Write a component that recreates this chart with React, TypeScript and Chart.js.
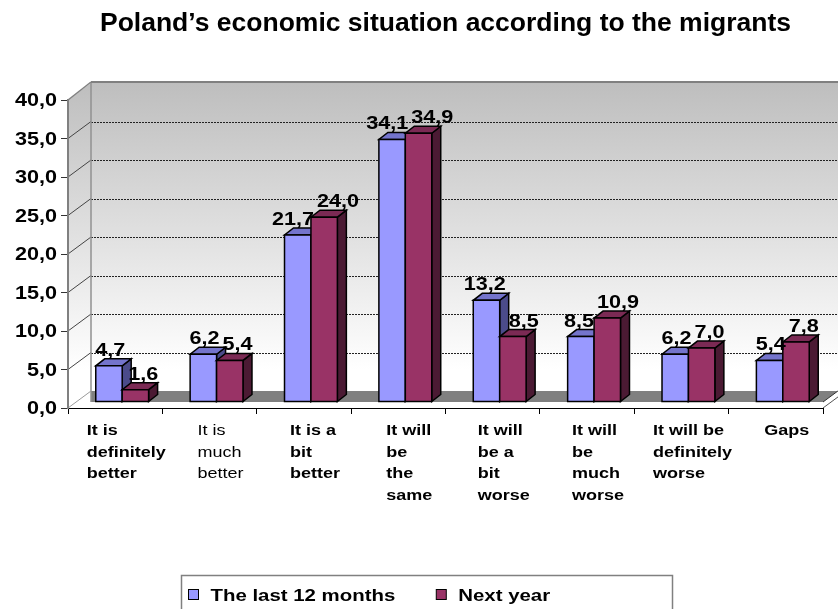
import React, { useEffect, useRef } from 'react';
import { Chart, registerables } from 'chart.js';

Chart.register(...registerables);

// ---------------- data ----------------
const TITLE = 'Poland\u2019s economic situation according to the migrants';
const CATEGORIES: string[][] = [
  ['It is', 'definitely', 'better'],
  ['It is', 'much', 'better'],
  ['It is a', 'bit', 'better'],
  ['It will', 'be', 'the', 'same'],
  ['It will', 'be a', 'bit', 'worse'],
  ['It will', 'be', 'much', 'worse'],
  ['It will be', 'definitely', 'worse'],
  ['Gaps'],
];
const SERIES_NAMES = ['The last 12 months', 'Next year'];
const LAST_12_MONTHS = [4.7, 6.2, 21.7, 34.1, 13.2, 8.5, 6.2, 5.4];
const NEXT_YEAR = [1.6, 5.4, 24.0, 34.9, 8.5, 10.9, 7.0, 7.8];
const Y_MIN = 0;
const Y_MAX = 40;
const Y_STEP = 5;
const PLAIN_LABEL_INDEXES = [1];

// ---------------- style ----------------
const FONT = '"Liberation Sans", Arial, Helvetica, sans-serif';
const STRETCH = 1.2;
const PALETTE = [
  { front: '#9999FF', top: '#7474CC', side: '#4B4B8A' },
  { front: '#993366', top: '#7B2A54', side: '#4B1A33' },
];
const DEPTH = { x: 23, y: -17 };
const BAR_OFFSET = { x: 7, y: -6 };
const BAR_DEPTH = { x: 9, y: -7 };

const fmt = (v: number) => v.toFixed(1).replace('.', ',');

function setFont(ctx: CanvasRenderingContext2D, size: number, weight: string) {
  ctx.font = `${weight} ${size}px ${FONT}`;
}
function measure(ctx: CanvasRenderingContext2D, text: string, size: number, weight: string) {
  ctx.save();
  setFont(ctx, size, weight);
  const w = ctx.measureText(text).width * STRETCH;
  ctx.restore();
  return w;
}
function drawText(
  ctx: CanvasRenderingContext2D,
  text: string,
  x: number,
  y: number,
  size: number,
  weight: string,
  align: CanvasTextAlign
) {
  ctx.save();
  setFont(ctx, size, weight);
  ctx.fillStyle = '#000';
  ctx.textBaseline = 'alphabetic';
  ctx.textAlign = align;
  ctx.translate(x, y);
  ctx.scale(STRETCH, 1);
  ctx.fillText(text, 0, 0);
  ctx.restore();
}
function poly(
  ctx: CanvasRenderingContext2D,
  pts: number[][],
  fill?: string | CanvasGradient,
  stroke?: string,
  lw = 1
) {
  ctx.beginPath();
  ctx.moveTo(pts[0][0], pts[0][1]);
  for (let i = 1; i < pts.length; i++) ctx.lineTo(pts[i][0], pts[i][1]);
  ctx.closePath();
  if (fill) {
    ctx.fillStyle = fill;
    ctx.fill();
  }
  if (stroke) {
    ctx.strokeStyle = stroke;
    ctx.lineWidth = lw;
    ctx.stroke();
  }
}
function line(ctx: CanvasRenderingContext2D, x1: number, y1: number, x2: number, y2: number, color: string, lw = 1) {
  ctx.beginPath();
  ctx.moveTo(x1, y1);
  ctx.lineTo(x2, y2);
  ctx.strokeStyle = color;
  ctx.lineWidth = lw;
  ctx.stroke();
}

const threeDPlugin = {
  id: 'threeD',
  beforeDraw(chart: any) {
    const { ctx, chartArea: a } = chart;
    const ys = chart.scales.y;
    const y0 = ys.getPixelForValue(Y_MIN);
    const yTop = ys.getPixelForValue(Y_MAX);
    const bl = a.left + DEPTH.x;
    const br = a.right + DEPTH.x;
    const bt = yTop + DEPTH.y;
    const bb = y0 + DEPTH.y;
    ctx.save();
    const mkGrad = () => {
      const g = ctx.createLinearGradient(0, bt, 0, bb);
      g.addColorStop(0, '#BEBEBE');
      g.addColorStop(0.93, '#FFFFFF');
      g.addColorStop(1, '#FFFFFF');
      return g;
    };
    // back wall
    ctx.fillStyle = mkGrad();
    ctx.fillRect(bl, bt - 1, br - bl, bb - bt + 1);
    // left side wall
    poly(ctx, [[a.left, yTop], [bl, bt], [bl, bb], [a.left, y0]], mkGrad());
    // grid lines
    ys.ticks.forEach((t: any) => {
      const py = ys.getPixelForValue(t.value);
      if (t.value > Y_MIN && t.value < Y_MAX) {
        ctx.setLineDash([2, 1]);
        line(ctx, bl, Math.round(py + DEPTH.y) + 0.5, br, Math.round(py + DEPTH.y) + 0.5, '#222', 1);
        ctx.setLineDash([]);
        line(ctx, a.left, py, bl, py + DEPTH.y, '#444', 1);
      }
    });
    // floor
    const fy = y0 + BAR_OFFSET.y;
    const backRight = a.right + (DEPTH.x * (fy - bb)) / -DEPTH.y;
    poly(ctx, [[bl, fy], [a.right, fy], [backRight, bb], [bl, bb]], '#808080');
    line(ctx, a.right, fy, backRight, bb, '#333', 1);
    line(ctx, a.right, y0, a.right + DEPTH.x, y0 + DEPTH.y, '#555', 1);
    // edges
    line(ctx, bl, bt - 1, br, bt - 1, '#808080', 2);
    line(ctx, bl, bt, bl, fy, '#909090', 1.5);
    line(ctx, a.left, yTop, bl, bt - 1, '#808080', 1.5);
    line(ctx, a.left, y0, bl, bb, '#9A9A9A', 1);
    ctx.restore();
  },
  beforeDatasetsDraw(chart: any) {
    const { ctx } = chart;
    const n = chart.data.labels.length;
    const nd = chart.data.datasets.length;
    ctx.save();
    ctx.lineJoin = 'miter';
    const labelInfo: any[][] = [];
    for (let i = 0; i < n; i++) {
      labelInfo[i] = [];
      for (let d = 0; d < nd; d++) {
        const el = chart.getDatasetMeta(d).data[i];
        const { x, y, base, width } = el.getProps(['x', 'y', 'base', 'width'], true);
        const x0 = x - width / 2 + BAR_OFFSET.x;
        const x1 = x + width / 2 + BAR_OFFSET.x;
        const yt = y + BAR_OFFSET.y;
        const yb = base + BAR_OFFSET.y;
        const dx = BAR_DEPTH.x;
        const dy = BAR_DEPTH.y;
        const c = PALETTE[d];
        poly(ctx, [[x1, yt], [x1 + dx, yt + dy], [x1 + dx, yb + dy], [x1, yb]], c.side, '#000', 1.5);
        poly(ctx, [[x0, yt], [x1, yt], [x1 + dx, yt + dy], [x0 + dx, yt + dy]], c.top, '#000', 1.5);
        poly(ctx, [[x0, yt], [x1, yt], [x1, yb], [x0, yb]], c.front, '#000', 1.5);
        const text = fmt(chart.data.datasets[d].data[i]);
        labelInfo[i].push({
          text,
          cx: (x0 + x1) / 2 + dx / 2,
          baseline: yt + dy - 3,
          w: measure(ctx, text, 18, 'bold'),
        });
      }
    }
    // value labels, pushed apart when they collide
    labelInfo.forEach((items) => {
      for (let k = 0; k < items.length - 1; k++) {
        const p = items[k];
        const q = items[k + 1];
        const need = (p.w + q.w) / 2 + 3;
        const sep = q.cx - p.cx;
        if (sep < need) {
          const s = (need - sep) / 2;
          p.cx -= s;
          q.cx += s;
        }
      }
      items.forEach((it) => drawText(ctx, it.text, it.cx, it.baseline, 18, 'bold', 'center'));
    });
    ctx.restore();
    return false;
  },
  afterDraw(chart: any) {
    const { ctx, chartArea: a } = chart;
    const ys = chart.scales.y;
    const xs = chart.scales.x;
    ctx.save();
    // y tick labels
    ys.ticks.forEach((t: any) => {
      const py = ys.getPixelForValue(t.value);
      drawText(ctx, fmt(t.value), a.left - 11, py + 6.4, 18, 'bold', 'right');
    });
    // category labels
    chart.data.labels.forEach((lines: string[], i: number) => {
      const weight = PLAIN_LABEL_INDEXES.includes(i) ? 'normal' : 'bold';
      const cx = xs.getPixelForValue(i) + 11;
      const maxW = Math.max(...lines.map((ln) => measure(ctx, ln, 15, weight)));
      const left = cx - maxW / 2;
      lines.forEach((ln, j) => drawText(ctx, ln, left, a.bottom + 27 + j * 21.5, 15, weight, 'left'));
    });
    // legend
    const W = chart.width;
    const H = chart.height;
    const boxW = 491;
    const boxL = Math.round(W / 2 + 7 - boxW / 2) + 0.5;
    const boxT = H - 34 + 0.5;
    ctx.strokeStyle = '#808080';
    ctx.lineWidth = 1.5;
    ctx.strokeRect(boxL, boxT, boxW, 60);
    let x = boxL + 7;
    chart.data.datasets.forEach((ds: any) => {
      ctx.fillStyle = ds.backgroundColor;
      ctx.fillRect(x, boxT + 14, 10, 10);
      ctx.strokeStyle = '#000';
      ctx.lineWidth = 1;
      ctx.strokeRect(x, boxT + 14, 10, 10);
      const tx = x + 22;
      drawText(ctx, ds.label, tx, boxT + 25.5, 17, 'bold', 'left');
      x = tx + measure(ctx, ds.label, 17, 'bold') + 41;
    });
    ctx.restore();
  },
};

export default function App() {
  const ref = useRef<HTMLCanvasElement | null>(null);
  useEffect(() => {
    if (!ref.current) return;
    const chart = new Chart(ref.current, {
      type: 'bar',
      data: {
        labels: CATEGORIES,
        datasets: [
          {
            label: SERIES_NAMES[0],
            data: LAST_12_MONTHS,
            backgroundColor: PALETTE[0].front,
            categoryPercentage: 0.56,
            barPercentage: 1,
          },
          {
            label: SERIES_NAMES[1],
            data: NEXT_YEAR,
            backgroundColor: PALETTE[1].front,
            categoryPercentage: 0.56,
            barPercentage: 1,
          },
        ],
      },
      options: {
        animation: false,
        responsive: false,
        devicePixelRatio: 1,
        layout: { padding: { top: 0, left: 0, right: 15, bottom: 0 } },
        plugins: {
          legend: { display: false },
          tooltip: { enabled: false },
          title: {
            display: true,
            text: TITLE,
            fullSize: false,
            color: '#000',
            font: { family: FONT, size: 26.5, weight: 'bold' },
            padding: { top: 8, bottom: 60.2 },
          },
        },
        scales: {
          x: {
            type: 'category',
            offset: true,
            ticks: { display: false },
            grid: {
              display: true,
              offset: true,
              drawOnChartArea: false,
              drawTicks: true,
              tickLength: 6,
              color: '#000',
              lineWidth: 1,
            },
            border: { display: true, color: '#000', width: 1 },
            afterFit: (s: any) => {
              s.height = 201;
            },
          },
          y: {
            min: Y_MIN,
            max: Y_MAX,
            ticks: { stepSize: Y_STEP, display: false },
            grid: {
              display: true,
              drawOnChartArea: false,
              drawTicks: true,
              tickLength: 7,
              color: '#333',
              lineWidth: 1,
            },
            border: { display: true, color: '#808080', width: 2 },
            afterFit: (s: any) => {
              s.width = 68;
            },
          },
        },
      },
      plugins: [threeDPlugin],
    } as any);
    return () => chart.destroy();
  }, []);
  return (
    <div style={{ position: 'fixed', left: 0, top: 0, width: 838, height: 609, background: '#fff' }}>
      <canvas ref={ref} width={838} height={609} style={{ display: 'block' }} />
    </div>
  );
}
